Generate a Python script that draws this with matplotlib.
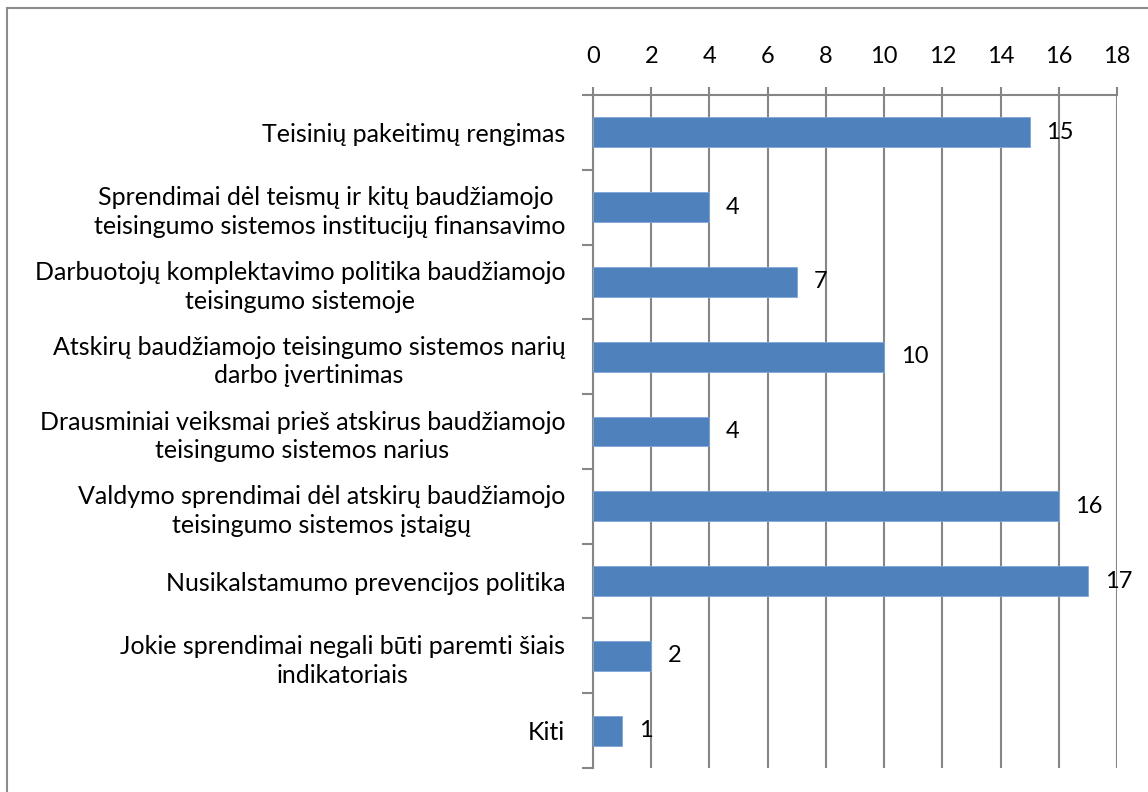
import matplotlib
matplotlib.use("Agg")
import matplotlib.pyplot as plt
from matplotlib.lines import Line2D

plt.rcParams['font.family'] = ['Lato', 'DejaVu Sans']

categories = [
    "Teisinių pakeitimų rengimas",
    "Sprendimai dėl teismų ir kitų baudžiamojo \nteisingumo sistemos institucijų finansavimo",
    "Darbuotojų komplektavimo politika baudžiamojo\nteisingumo sistemoje",
    "Atskirų baudžiamojo teisingumo sistemos narių\ndarbo įvertinimas",
    "Drausminiai veiksmai prieš atskirus baudžiamojo\nteisingumo sistemos narius",
    "Valdymo sprendimai dėl atskirų baudžiamojo\nteisingumo sistemos įstaigų",
    "Nusikalstamumo prevencijos politika",
    "Jokie sprendimai negali būti paremti šiais\nindikatoriais",
    "Kiti",
]
values = [15, 4, 7, 10, 4, 16, 17, 2, 1]
xticks = [0, 2, 4, 6, 8, 10, 12, 14, 16, 18]

bar_color = "#4F81BD"
grid_color = "#868686"

fig = plt.figure(figsize=(11.48, 7.92), dpi=100)
ax = fig.add_axes([593 / 1148, 1 - 768 / 792, (1117 - 593) / 1148, (768 - 95) / 792])

centers = [i + 0.5 for i in range(len(categories))]
ax.barh(centers, values, height=0.4, color=bar_color, edgecolor="#7FA7D9", linewidth=0.6, zorder=3)

for c, v in zip(centers, values):
    ax.annotate(str(v), (v, c), xytext=(12, 0), textcoords="offset points",
                va="center", ha="left", fontsize=17, color="black", zorder=4)

ax.set_xlim(0, 18)
ax.set_ylim(len(categories), 0)
ax.xaxis.tick_top()
ax.set_xticks(xticks)
ax.set_xticklabels([str(t) for t in xticks], fontsize=17)
ax.tick_params(axis="x", which="major", length=6, width=1.5, color=grid_color, pad=14)
ax.grid(axis="x", color=grid_color, linewidth=1.5, zorder=1)

ax.set_yticks(range(len(categories) + 1))
ax.set_yticklabels([])
ax.set_yticks(centers, minor=True)
ax.set_yticklabels(categories, minor=True, fontsize=18, ha="right",
                   multialignment="center", linespacing=1.3)
ax.tick_params(axis="y", which="major", length=8, width=1.5, color=grid_color)
ax.tick_params(axis="y", which="minor", length=0, pad=20)

for s in ["right", "bottom"]:
    ax.spines[s].set_visible(False)
ax.spines["left"].set_color(grid_color)
ax.spines["left"].set_linewidth(1.5)
ax.spines["top"].set_color(grid_color)
ax.spines["top"].set_linewidth(1.5)

# chart border (only top and left edges visible in the crop)
fig.add_artist(Line2D([7 / 1148, 1.01], [1 - 8 / 792, 1 - 8 / 792], transform=fig.transFigure, color="#8c8c8c", linewidth=1.5))
fig.add_artist(Line2D([7 / 1148, 7 / 1148], [1 - 8 / 792, -0.01], transform=fig.transFigure, color="#8c8c8c", linewidth=1.5))

fig.savefig("out.png", dpi=100)
